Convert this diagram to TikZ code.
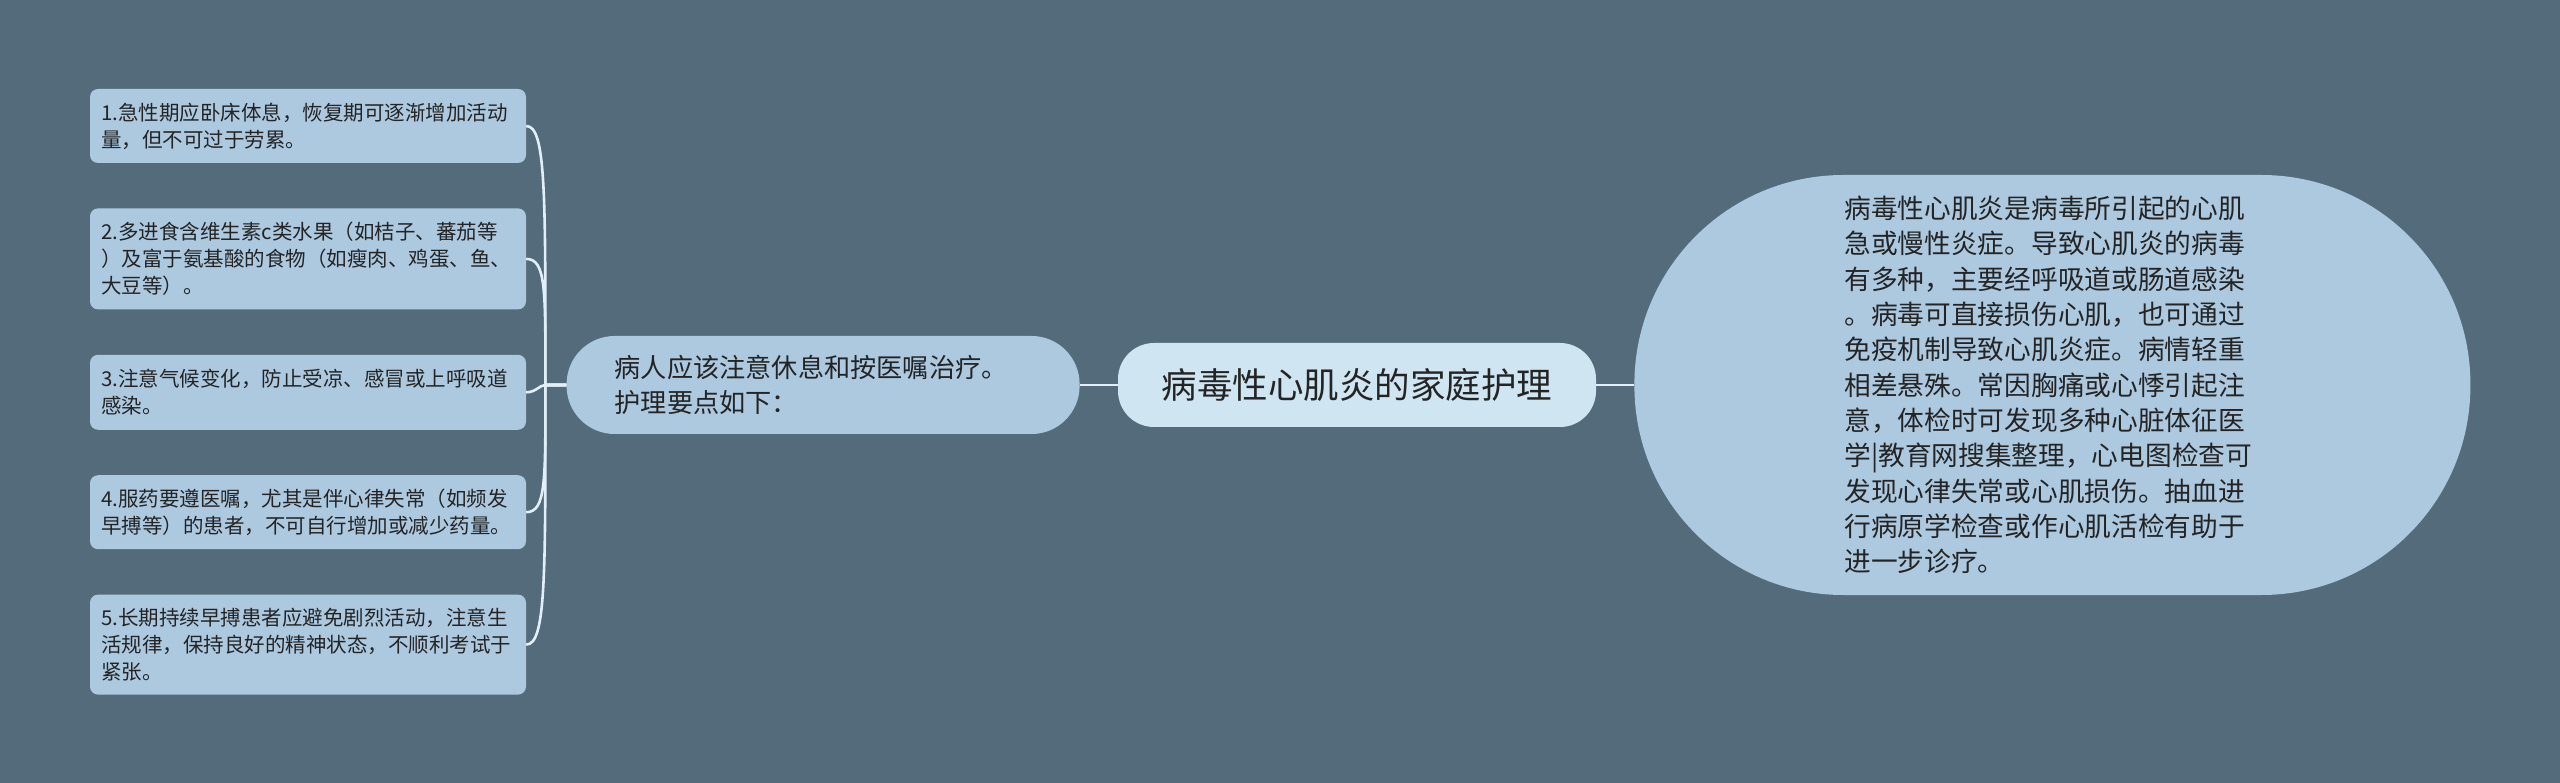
\documentclass[tikz,border=0pt]{standalone}
\usepackage{fontspec}
\setmainfont{Noto Sans CJK SC}
\usepackage{xcolor}
\usetikzlibrary{positioning}

\definecolor{bgcol}{RGB}{84,107,123}
\definecolor{boxcol}{RGB}{172,201,224}
\definecolor{rootcol}{RGB}{207,229,242}
\definecolor{linkcol}{RGB}{226,239,248}
\definecolor{inkcol}{RGB}{36,36,36}

\tikzset{
  tipbox/.style={rectangle, fill=boxcol, rounded corners=8pt, text=inkcol,
    text width=414pt, inner xsep=11pt, align=left, minimum height=74pt,
    font=\fontsize{20.5}{27}\selectfont},
  carebox/.style={rectangle, fill=boxcol, rounded corners=48pt, text=inkcol,
    text width=417pt, inner xsep=48pt, align=left, minimum height=98pt,
    font=\fontsize{26.2}{35}\selectfont},
  rootbox/.style={rectangle, fill=rootcol, rounded corners=36pt, text=inkcol,
    minimum width=478pt, minimum height=84pt,
    font=\fontsize{35.5}{40}\selectfont},
  introbox/.style={rectangle, fill=boxcol, rounded corners=209pt, text=inkcol,
    text width=416pt, inner xsep=210pt, align=left, minimum height=420pt,
    font=\fontsize{26.7}{35.3}\selectfont},
  link/.style={draw=linkcol, line width=2.6pt}
}

\begin{document}
\begin{tikzpicture}[x=1pt, y=-1pt, node distance=38pt]
                \fill[bgcol] (0,0) rectangle (2560,783);

                \node[rootbox] (root) at (1357,385) {病毒性心肌炎的家庭护理};
                \node[carebox, left=of root] (care) {病人应该注意休息和按医嘱治疗。\\护理要点如下：};
                \node[introbox, right=of root] (intro) {病毒性心肌炎是病毒所引起的心肌\\急或慢性炎症。导致心肌炎的病毒\\有多种，主要经呼吸道或肠道感染\\。病毒可直接损伤心肌，也可通过\\免疫机制导致心肌炎症。病情轻重\\相差悬殊。常因胸痛或心悸引起注\\意，体检时可发现多种心脏体征医\\学|教育网搜集整理，心电图检查可\\发现心律失常或心肌损伤。抽血进\\行病原学检查或作心肌活检有助于\\进一步诊疗。};

                \node[tipbox] (tip1) at (308,126) {1.急性期应卧床体息，恢复期可逐渐增加活动\\量，但不可过于劳累。};
                \node[tipbox, minimum height=101pt, below=45pt of tip1] (tip2) {2.多进食含维生素c类水果（如桔子、蕃茄等\\）及富于氨基酸的食物（如瘦肉、鸡蛋、鱼、\\大豆等）。};
                \node[tipbox, minimum height=75pt, below=45pt of tip2] (tip3) {3.注意气候变化，防止受凉、感冒或上呼吸道\\感染。};
                \node[tipbox, below=45pt of tip3] (tip4) {4.服药要遵医嘱，尤其是伴心律失常（如频发\\早搏等）的患者，不可自行增加或减少药量。};
                \node[tipbox, minimum height=100pt, below=45pt of tip4] (tip5) {5.长期持续早搏患者应避免剧烈活动，注意生\\活规律，保持良好的精神状态，不顺利考试于\\紧张。};

                \draw[link] (root.east) -- (intro.west);
                \draw[link] (root.west) -- (care.east);
                \draw[link] (care.west) -- ++(-21,0) .. controls +(0,-190) and +(20,0) .. (tip1.east);
                \draw[link] (care.west) -- ++(-21,0) .. controls +(0,-95) and +(20,0) .. (tip2.east);
                \draw[link] (care.west) -- ++(-21,0) .. controls +(-6,0) and +(10,0) .. (tip3.east);
                \draw[link] (care.west) -- ++(-21,0) .. controls +(0,95) and +(20,0) .. (tip4.east);
                \draw[link] (care.west) -- ++(-21,0) .. controls +(0,190) and +(20,0) .. (tip5.east);
            \end{tikzpicture}
\end{document}
